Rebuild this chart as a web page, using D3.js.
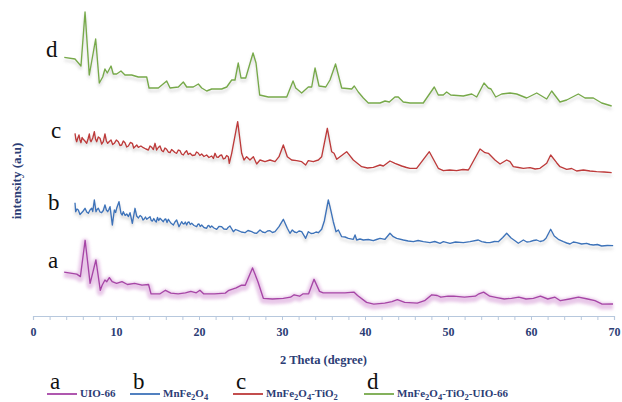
<!DOCTYPE html>
<html>
<head>
<meta charset="utf-8">
<script src="https://cdn.jsdelivr.net/npm/d3@7"></script>
<style>
  html, body { margin: 0; padding: 0; background: #fff; }
  svg { display: block; }
</style>
</head>
<body>
<svg id="chart" width="622" height="402"></svg>
<script>
// ---------- DATA (2θ in degrees, intensity in arbitrary units incl. stacking offset) ----------
const xTicks = [0, 10, 20, 30, 40, 50, 60, 70];
const seriesKeys = ["a", "b", "c", "d"];
const seriesNames = ["UIO-66", "MnFe2O4", "MnFe2O4-TiO2", "MnFe2O4-TiO2-UIO-66"];
const seriesColors = ["#a646a6", "#3e73b9", "#bd3a3a", "#77a94a"];

const seriesA = [
  [3.75,43.9],[5.27,41.9],[5.71,39.4],[6.28,75.7],[6.88,32.6],[7.58,56],[8.11,25.7],[8.33,30.8],
  [8.67,36],[8.89,34.3],[9.2,38.4],[9.54,34.3],[10.07,32.6],[10.72,34.3],[11.38,31.5],[12.25,32.6],
  [13.13,30.8],[13.92,31.5],[14.22,22.2],[15.31,22.2],[15.96,25.7],[16.61,22.9],[17.49,22.2],
  [18.36,23.2],[19.02,24.6],[19.67,23.2],[20.11,25.7],[20.55,22.2],[21.86,22.2],[23.17,22.9],
  [23.6,25.7],[24.48,28.1],[25.13,30.8],[25.57,30.8],[26.45,48.1],[27.1,34.3],[27.75,17.7],
  [28.84,17],[30.16,17.7],[31.03,18.8],[31.46,21.2],[32.12,19.8],[32.55,22.2],[33.21,22.2],
  [33.86,36.7],[34.52,24.6],[34.96,23.2],[35.83,23.2],[37.58,23.2],[38.66,23.9],[39.1,20.5],
  [40.19,13.6],[41.06,11.9],[42.37,12.9],[43.25,14.3],[43.9,16.3],[44.78,13.6],[46.3,12.9],
  [47.18,15.3],[48.05,21.2],[48.7,20.5],[49.14,18.8],[50.01,19.8],[50.67,19.8],[51.98,18.8],
  [53.29,19.8],[53.73,22.2],[54.29,23.9],[55.03,19.8],[55.9,18.4],[56.78,17],[57.65,17.7],
  [58.53,18.8],[59.4,17],[60.28,17.7],[61.14,19.8],[62.02,17],[62.89,18.8],[63.54,15.3],
  [64.64,17],[65.72,18.8],[66.82,17],[67.7,15.3],[68.57,11.9],[69.88,12]
];

const seriesB = [
  [5.06,113.3],[5.14,104.3],[5.3,107],[5.46,106],[5.66,101.5],[5.86,103.3],[6.05,105],[6.27,107.7],
  [6.47,104],[6.67,102.7],[6.87,106],[7.07,107.7],[7.2,104.5],[7.39,116],[7.59,104.3],[7.72,106.5],
  [7.87,107.7],[8.07,104],[8.27,103.3],[8.47,105.5],[8.67,111],[8.84,106],[9.0,104.3],[9.14,106.5],
  [9.28,109.3],[9.56,91],[9.8,106],[9.95,103.5],[10.08,107.7],[10.36,114.3],[10.6,102.7],[10.75,101],
  [10.88,104.3],[11.1,100.5],[11.29,102],[11.5,99.5],[11.69,103.3],[11.97,92.7],[12.29,107.7],
  [12.49,100],[12.7,98],[12.9,100.5],[13.09,99.3],[13.25,96],[13.4,97],[13.55,99],[13.7,96.7],
  [13.9,98],[14.1,99.3],[14.25,95.5],[14.4,95],[14.55,97.5],[14.7,95.3],[14.85,94],[15.0,98.5],
  [15.15,95.5],[15.3,97.7],[15.5,96],[15.7,94.3],[15.85,96.5],[16.0,97],[16.15,93.5],[16.31,96.7],
  [16.6,93],[16.91,91],[17.1,94],[17.31,96],[17.59,89.3],[17.91,94.3],[18.05,92.5],[18.2,92],
  [18.35,94],[18.51,91],[18.65,93.5],[18.8,94],[18.95,91.5],[19.12,92.7],[19.4,90.5],[19.72,89.3],
  [19.85,91.5],[20.0,92],[20.15,89.5],[20.32,91],[20.6,88.5],[20.92,87.7],[21.05,90],[21.2,90.5],
  [21.35,88.5],[21.53,90],[21.8,88],[22.13,86.7],[22.4,89.5],[22.73,89.3],[23.0,87],[23.33,86.7],
  [23.5,88.5],[23.73,90],[24.14,84.3],[24.4,86.5],[24.74,85.3],[25.1,84],[25.54,83.3],[25.9,85.5],
  [26.35,84.3],[26.65,83],[26.95,82.7],[27.35,86],[27.65,84],[27.95,83.3],[28.25,85],
  [28.55,85.3],[28.85,83.5],[29.16,84.3],[29.64,89.3],[30.16,96.7],[30.64,87.7],[30.96,82.7],
  [31.24,86],[31.5,84],[31.76,83.3],[32.05,85],[32.37,84.3],[32.85,77.7],[33.17,84.3],
  [33.5,82.5],[33.77,82.7],[34.1,84],[34.38,83.3],[34.78,86.7],[35.1,95],[35.58,116],
  [35.78,109.3],[36.18,94.3],[36.51,84.3],[36.79,86],[37.19,79.3],[37.6,79],[37.99,77.7],
  [38.59,76.7],[38.8,81],[39.0,76],[39.4,77],[39.8,76],[40.4,76.5],[41.0,75.3],[41.4,76.5],
  [41.81,77.7],[42.41,76.7],[43.01,82.7],[43.41,79.3],[43.82,77.7],[44.62,76],[45.2,75],
  [45.82,74.3],[46.4,75.5],[47.03,74.3],[47.83,73.3],[48.4,74.5],[49.04,72.7],[49.44,74.3],
  [50.24,72.7],[50.9,74],[51.85,73.3],[52.65,74.3],[53.65,76],[54.06,74.3],[54.6,73.5],
  [55.06,73.3],[55.6,74.5],[56.06,74.3],[56.6,78.5],[57.07,82.7],[57.6,78],[58.07,75.3],
  [58.47,72.7],[59.08,76],[59.5,74],[59.88,74.3],[60.3,75.5],[60.68,76],[61.1,74.5],
  [61.49,75.3],[61.81,77.7],[62.37,86.7],[62.8,80],[63.29,76.7],[63.9,74.3],[64.3,73],
  [64.7,72],[65.1,74],[65.5,73.3],[66.1,72],[66.71,72.7],[67.1,71.5],[67.51,71],[68.0,71.5],
  [68.51,70],[69.2,70.5],[69.9,70.3]
];

const seriesC = [
  [5.06,182.7],[5.16,177],[5.26,174.3],[5.4,178],[5.54,181],[5.66,176],[5.78,173.3],[5.92,178.5],
  [6.06,176.7],[6.25,175],[6.47,172.7],[6.63,177],[6.79,182],[6.89,176],[6.99,174.3],[7.2,178],
  [7.39,184.3],[7.53,177],[7.67,174.3],[7.87,179],[8.07,177.7],[8.27,172],[8.47,174.3],[8.67,182],
  [8.84,175],[9.0,172.7],[9.2,174.5],[9.4,176],[9.6,171.5],[9.8,172.7],[10.04,176],[10.28,174.3],
  [10.48,170.5],[10.68,171],[10.88,175],[11.08,173.3],[11.29,169],[11.49,170],[11.73,173.5],
  [11.97,172.7],[12.13,168],[12.29,169.3],[12.5,171],[12.69,168.7],[13.0,170],[13.29,168.3],
  [13.6,167],[13.9,166],[14.1,170],[14.3,168.7],[14.5,166.5],[14.7,172.7],[14.9,166],[15.1,168.5],
  [15.3,170],[15.5,165.5],[15.7,164.3],[15.9,168],[16.1,166.7],[16.3,164],[16.51,163.3],
  [16.7,166.5],[16.91,165],[17.1,163.5],[17.31,162.7],[17.51,166],[17.71,165.3],[17.9,162],
  [18.11,161],[18.3,163.5],[18.51,165.3],[18.7,161.5],[18.92,162.7],[19.2,160.5],[19.52,161],
  [19.7,164],[19.9,163],[20.1,160.5],[20.32,162],[20.6,159.5],[20.92,161],[21.2,158.5],
  [21.53,160],[21.73,157.5],[21.93,162.7],[22.13,159],[22.33,158.7],[22.53,160.5],[22.73,161],
  [22.93,157],[23.13,157.7],[23.33,160.5],[23.53,159.3],[23.65,152.7],[23.94,162.7],[24.66,194.3],
  [25.14,162.7],[25.42,156],[25.74,159.3],[26.14,156],[26.55,159.3],[26.95,152],[27.35,156],
  [27.95,154.3],[28.55,156],[29.16,154.3],[29.64,159.3],[30.16,171],[30.64,159.3],[31.16,156],
  [31.76,155.3],[32.37,154.3],[32.85,151],[33.17,155.3],[33.77,154.3],[34.38,156],[34.78,159.3],
  [35.46,187.7],[35.98,164.3],[36.27,162.7],[36.59,156.7],[36.99,159.3],[37.79,164.3],[38.59,156],
  [39.6,149.3],[40.3,148],[41.0,148.7],[41.81,151],[42.21,150],[43.01,155],[43.61,152.7],
  [44.42,150],[45.0,148.5],[45.42,147.7],[46.22,147.7],[47.75,164.3],[48.83,147.7],[49.44,145.3],
  [50.2,146],[51.04,145.3],[51.8,146.5],[52.45,146],[52.65,148.7],[53.86,167],[54.46,163.3],
  [54.86,162.7],[55.66,156],[56.27,152],[57.07,156],[57.47,154.3],[57.87,149.3],[58.5,148.5],
  [59.08,147.7],[59.88,148.3],[60.5,147],[61.08,147.7],[61.89,152.7],[62.37,161],[63.09,153.3],
  [63.49,149.3],[64.3,146.7],[64.9,147.5],[65.5,145],[66.31,146],[67.1,145],[67.91,144.3],
  [68.8,144],[69.72,143.3]
];

const seriesD = [
  [3.77,258.7],[5.06,257],[5.78,250],[6.27,304],[6.78,241],[7.55,277],[7.99,233],[8.4,239],
  [8.67,247],[8.95,243],[9.4,250],[9.67,242],[10.08,242],[10.6,245],[11.08,241],[11.89,241],
  [12.69,239],[13.7,239],[13.98,228],[15.1,228],[16.11,235],[16.51,228],[17.51,229],[18.11,234],
  [18.52,229],[19.31,229],[19.92,232],[20.33,228],[20.93,225],[21.53,227],[22.73,227],[23.34,229],
  [23.94,236],[24.34,236],[24.73,253],[25.06,238],[25.63,238],[26.51,263],[26.87,253],[27.31,221],
  [28.35,219],[30.57,219],[30.76,223],[31.33,235],[31.65,228],[32.37,223],[33.17,229],[33.58,229],
  [33.98,248],[34.46,230],[35.27,229],[35.78,236],[36.45,252],[37.19,228],[38.4,227],[38.71,230],
  [39.19,224],[39.8,218],[40.4,213],[41.81,213],[42.41,215],[42.93,214],[43.61,219],[44.01,219],
  [44.61,214],[45.42,213],[47.02,213],[48.35,229],[48.83,221],[49.43,221],[49.84,224],[50.33,221],
  [51.84,220],[52.86,222],[53.46,219],[54.34,233],[54.86,228],[55.18,227],[55.75,219],[56.47,222],
  [57.47,223],[58.27,222],[59.48,218],[60.69,223],[61.89,217],[62.49,225],[63.49,214],[64.3,216],
  [65.7,222],[66.51,218],[67.51,218],[68.52,213],[69.72,210]
];

const allSeries = [seriesA, seriesB, seriesC, seriesD];

// ---------- LAYOUT ----------
const svg = d3.select("#chart");
const plot = { left: 33, right: 614, top: 0, bottom: 316 };
const navy = "#2c3d75";
const serif = "'Liberation Serif', 'DejaVu Serif', serif";

const x = d3.scaleLinear().domain([0, 70]).range([plot.left, plot.right]);
const y = d3.scaleLinear().domain([0, 316]).range([plot.bottom, plot.top]);

// filters
const defs = svg.append("defs");
const sh = defs.append("filter").attr("id", "shadow")
  .attr("x", "-5%").attr("y", "-20%").attr("width", "110%").attr("height", "160%");
sh.append("feDropShadow").attr("dx", 0).attr("dy", 3).attr("stdDeviation", 1.6)
  .attr("flood-color", "#7a7a7a").attr("flood-opacity", 0.35);
const glow = defs.append("filter").attr("id", "glow")
  .attr("x", "-5%").attr("y", "-30%").attr("width", "110%").attr("height", "180%");
glow.append("feGaussianBlur").attr("stdDeviation", 1.6);

// x axis
const xAxis = d3.axisBottom(x)
  .tickValues(d3.range(0, 71, 2))
  .tickFormat(d => xTicks.includes(d) ? d : "")
  .tickSize(4)
  .tickPadding(7);
const gx = svg.append("g").attr("transform", `translate(0,${plot.bottom})`).call(xAxis);
gx.select(".domain").attr("stroke", "#b7c8dd").attr("stroke-width", 1.2);
gx.selectAll(".tick line").attr("stroke", "#b7c8dd");
gx.selectAll(".tick text")
  .attr("fill", navy).attr("font-family", serif).attr("font-weight", "bold").attr("font-size", 12);

// axis titles
svg.append("text")
  .attr("x", (plot.left + plot.right) / 2).attr("y", 364)
  .attr("text-anchor", "middle")
  .attr("font-family", serif).attr("font-weight", "bold").attr("font-size", 12.5)
  .attr("fill", navy).text("2 Theta (degree)");
svg.append("text")
  .attr("transform", `translate(21,${181}) rotate(-90)`)
  .attr("text-anchor", "middle")
  .attr("font-family", serif).attr("font-weight", "bold").attr("font-size", 13)
  .attr("fill", navy).text("intensity (a.u)");

// lines
const line = d3.line().x(d => x(d[0])).y(d => y(d[1]));

// magenta glow band under series a
svg.append("path").datum(seriesA)
  .attr("d", line)
  .attr("transform", "translate(0,2)")
  .attr("fill", "none").attr("stroke", "#d9a3d9").attr("stroke-width", 7)
  .attr("stroke-opacity", 0.6).attr("stroke-linejoin", "round")
  .attr("filter", "url(#glow)");

allSeries.forEach((s, i) => {
  svg.append("path").datum(s)
    .attr("d", line)
    .attr("fill", "none")
    .attr("stroke", seriesColors[i])
    .attr("stroke-width", 1.35)
    .attr("stroke-linejoin", "round")
    .attr("filter", i === 0 ? null : "url(#shadow)");
});

// series letters at left of each curve (layout positions)
const letterPos = [[48, 268], [48, 210], [51, 138], [46, 57]];
seriesKeys.forEach((k, i) => {
  svg.append("text")
    .attr("x", letterPos[i][0]).attr("y", letterPos[i][1])
    .attr("font-family", serif).attr("font-size", 23).attr("fill", "#111")
    .text(k);
});

// legend
const legendStarts = [47, 130, 233, 364];
function addName(sel, name) {
  // split into runs; digits directly after a letter become subscripts
  const runs = [];
  for (let k = 0; k < name.length; k++) {
    const ch = name[k];
    const sub = /\d/.test(ch) && k > 0 && /[A-Za-z]/.test(name[k - 1]);
    if (runs.length && runs[runs.length - 1].sub === sub) runs[runs.length - 1].t += ch;
    else runs.push({ t: ch, sub });
  }
  let shifted = false;
  runs.forEach(r => {
    const ts = sel.append("tspan").text(r.t);
    if (r.sub) { ts.attr("dy", 2.5).attr("font-size", 8.5); shifted = true; }
    else if (shifted) { ts.attr("dy", -2.5); shifted = false; }
  });
}
seriesKeys.forEach((k, i) => {
  const lx = legendStarts[i];
  const g = svg.append("g");
  g.append("line")
    .attr("x1", lx).attr("x2", lx + 30).attr("y1", 394).attr("y2", 394)
    .attr("stroke", seriesColors[i]).attr("stroke-width", 1.8);
  g.append("text")
    .attr("x", lx + 3).attr("y", 389)
    .attr("font-family", serif).attr("font-size", 23).attr("fill", "#111")
    .text(k);
  const t = g.append("text")
    .attr("x", lx + 33).attr("y", 397)
    .attr("font-family", serif).attr("font-weight", "bold").attr("font-size", 11)
    .attr("fill", navy);
  addName(t, seriesNames[i]);
});
</script>
</body>
</html>
